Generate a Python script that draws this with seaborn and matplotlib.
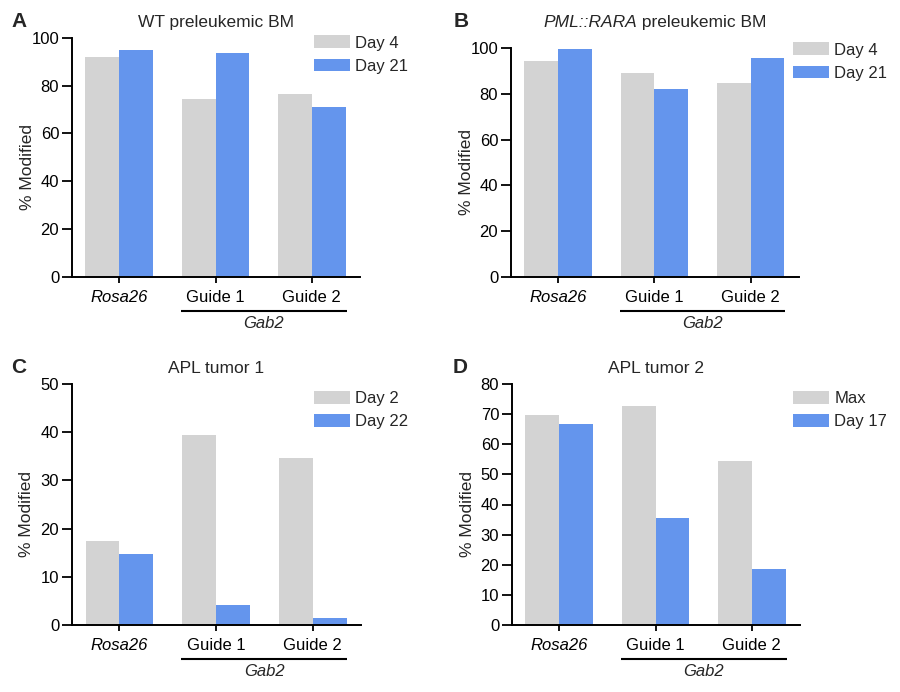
import matplotlib
matplotlib.use("Agg")
import matplotlib.pyplot as plt
import matplotlib.transforms as mt
import seaborn as sns
import pandas as pd

# ---------------- data ----------------
groups = ["Rosa26", "Guide 1", "Guide 2"]

a_labels = ["Day 4", "Day 21"]
a_first = [92.0, 74.5, 76.5]
a_second = [95.0, 93.5, 71.0]

b_labels = ["Day 4", "Day 21"]
b_first = [94.0, 88.8, 84.6]
b_second = [99.6, 82.0, 95.5]

c_labels = ["Day 2", "Day 22"]
c_first = [17.5, 39.4, 34.6]
c_second = [14.8, 4.1, 1.5]

d_labels = ["Max", "Day 17"]
d_first = [69.6, 72.6, 54.3]
d_second = [66.8, 35.4, 18.5]

titles = ["WT preleukemic BM", None, "APL tumor 1", "APL tumor 2"]
letters = ["A", "B", "C", "D"]
ymaxes = [100, 100, 50, 80]
ysteps = [20, 20, 10, 10]

GRAY = "#d3d3d3"
BLUE = "#6495ed"

sns.set_theme(style="ticks")
plt.rcParams["font.family"] = ["Liberation Sans", "DejaVu Sans"]
plt.rcParams["axes.edgecolor"] = "black"

W, H = 900, 692
fig = plt.figure(figsize=(9, 6.92), dpi=100)


def fx(px):
    return px / W


def fy(py):
    return 1 - py / H


# axes rectangles from pixel positions (left, right, top, bottom)
rects_px = [
    (72, 360, 37.7, 277),
    (511, 798.7, 47.7, 277.3),
    (72, 361, 384, 625),
    (512, 800, 384, 625),
]
legend_px = [(314.3, 35.5), (793.3, 42.5), (314.3, 391.0), (793.3, 391.0)]
title_px = [(216, 26.7), (655, 26.7), (216.5, 373.3), (656, 373.3)]
letter_px = [(11.5, 27.0), (453.5, 27.0), (11.5, 373.5), (453.0, 373.5)]

series = [
    (a_labels, a_first, a_second),
    (b_labels, b_first, b_second),
    (c_labels, c_first, c_second),
    (d_labels, d_first, d_second),
]

renderer = fig.canvas.get_renderer()

for i in range(4):
    l, r, t, b = rects_px[i]
    ax = fig.add_axes([fx(l), fy(b), fx(r - l), (b - t) / H])
    labs, s1, s2 = series[i]
    df = pd.DataFrame({
        "group": groups * 2,
        "value": s1 + s2,
        "time": [labs[0]] * 3 + [labs[1]] * 3,
    })
    sns.barplot(data=df, x="group", y="value", hue="time",
                palette=[GRAY, BLUE], width=0.7, saturation=1,
                ax=ax, linewidth=0)
    leg = ax.get_legend()
    handles = leg.legend_handles
    hlabels = [tx.get_text() for tx in leg.texts]
    leg.remove()
    lx, ly = legend_px[i]
    ax.legend(handles, hlabels, loc="upper left",
              bbox_to_anchor=(fx(lx), fy(ly)), bbox_transform=fig.transFigure,
              frameon=False, borderpad=0, borderaxespad=0,
              handlelength=2.16, handleheight=0.78, handletextpad=0.3,
              labelspacing=0.48, fontsize=12)

    ymax = ymaxes[i]
    ax.set_ylim(0, ymax)
    ax.set_yticks(list(range(0, ymax + 1, ysteps[i])))
    ax.set_xlim(-0.49, 2.5)
    ax.set_xticks([0, 1, 2])
    ax.set_xticklabels(groups)
    ax.get_xticklabels()[0].set_style("italic")
    ax.set_xlabel("")
    ax.set_ylabel("% Modified", fontsize=12.5)
    ax.yaxis.set_label_coords(-0.13, 0.46)
    sns.despine(ax=ax)
    for sp in ["left", "bottom"]:
        ax.spines[sp].set_linewidth(1.4)
        ax.spines[sp].set_color("black")
    ax.tick_params(axis="y", length=7.2, width=1.3, pad=2, labelsize=12,
                   color="black", labelcolor="black")
    ax.tick_params(axis="x", length=4.3, width=1.3, pad=5, labelsize=12,
                   color="black", labelcolor="black")

    # Gab2 bracket
    tr_line = mt.blended_transform_factory(ax.transData, ax.transAxes) + \
        mt.ScaledTranslation(0, -33.5 / 100, fig.dpi_scale_trans)
    ax.plot([0.64, 2.36], [0, 0], transform=tr_line, color="black",
            lw=1.5, clip_on=False, solid_capstyle="butt")
    tr_txt = mt.blended_transform_factory(ax.transData, ax.transAxes) + \
        mt.ScaledTranslation(0, -46.5 / 100, fig.dpi_scale_trans)
    ax.text(1.5, 0, "Gab2", transform=tr_txt, ha="center", va="center",
            style="italic", fontsize=12)

    # panel letters
    px, py = letter_px[i]
    fig.text(fx(px), fy(py), letters[i], fontsize=15, fontweight="bold",
             ha="left", va="baseline")

    # titles
    tx, ty = title_px[i]
    if titles[i] is not None:
        fig.text(fx(tx), fy(ty), titles[i], fontsize=12.5,
                 ha="center", va="baseline")
    else:
        t1 = fig.text(0, fy(ty), "PML::RARA", fontsize=12.5, style="italic",
                      ha="left", va="baseline")
        t2 = fig.text(0, fy(ty), " preleukemic BM", fontsize=12.5,
                      ha="left", va="baseline")
        w1 = t1.get_window_extent(renderer=renderer).width
        w2 = t2.get_window_extent(renderer=renderer).width
        start = tx - (w1 + w2) / 2
        t1.set_x(fx(start))
        t2.set_x(fx(start + w1))

fig.savefig("out.png", dpi=100)
